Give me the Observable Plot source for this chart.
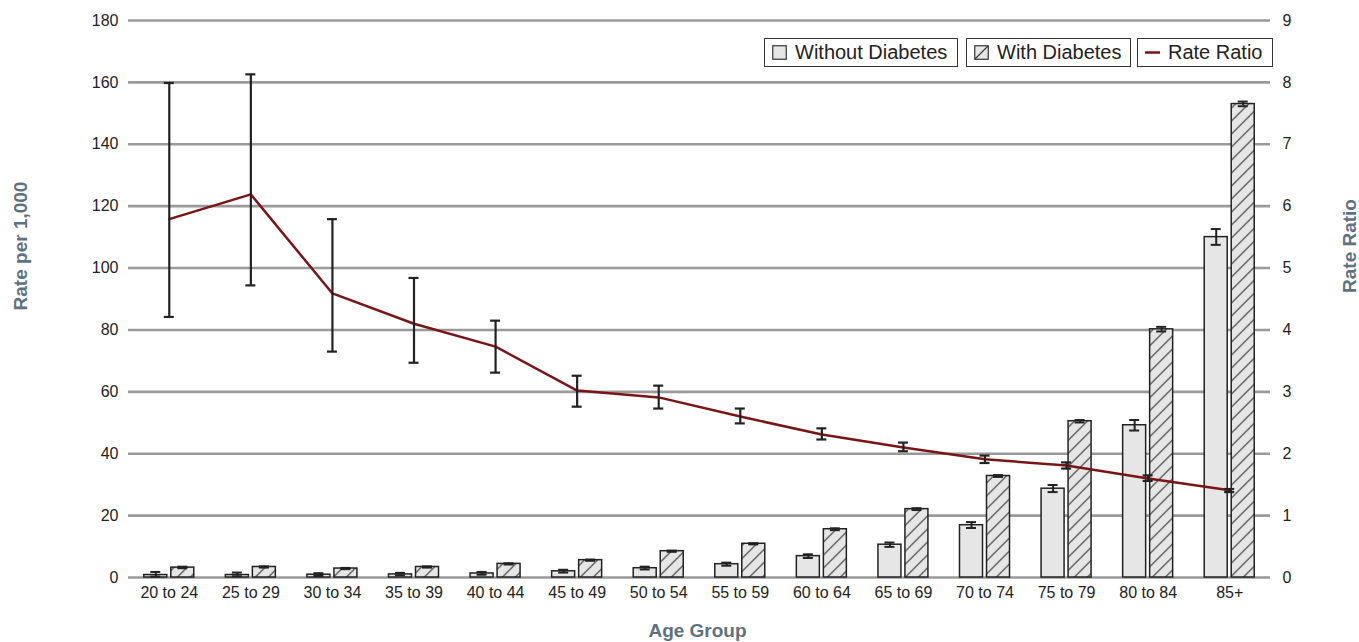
<!DOCTYPE html>
<html><head><meta charset="utf-8">
<script src="https://cdn.jsdelivr.net/npm/d3@7"></script>
<script src="https://cdn.jsdelivr.net/npm/@observablehq/plot@0.6"></script>
<style>
body{margin:0;background:#fff;}
#wrap{position:relative;width:1359px;height:642px;overflow:hidden;}
.lg{position:absolute;top:38px;height:27px;border:1.5px solid #333;background:#fff;display:flex;align-items:center;
  font-family:"Liberation Sans",Arial,sans-serif;font-size:20px;color:#222;box-sizing:content-box;white-space:nowrap;}
.lg svg{margin:0 8px 0 7px;}
</style></head><body><div id="wrap"></div>
<script>
const groups = ["20 to 24","25 to 29","30 to 34","35 to 39","40 to 44","45 to 49","50 to 54","55 to 59","60 to 64","65 to 69","70 to 74","75 to 79","80 to 84","85+"];
const withoutRate = [0.8, 0.8, 0.9, 1.0, 1.3, 2.0, 3.0, 4.3, 6.9, 10.6, 16.9, 28.7, 49.2, 110.0];
const withoutLo   = [0.3, 0.4, 0.5, 0.7, 0.9, 1.6, 2.6, 3.8, 6.3, 9.9, 16.0, 27.6, 47.5, 107.5];
const withoutHi   = [1.8, 1.6, 1.4, 1.5, 1.8, 2.5, 3.5, 4.8, 7.5, 11.3, 17.9, 29.9, 50.9, 112.6];
const withRate    = [3.2, 3.4, 2.9, 3.4, 4.4, 5.6, 8.5, 10.9, 15.6, 22.1, 32.8, 50.5, 80.2, 153.0];
const withLo      = [3.0, 3.2, 2.7, 3.2, 4.2, 5.4, 8.3, 10.7, 15.3, 21.8, 32.5, 50.1, 79.5, 152.3];
const withHi      = [3.5, 3.6, 3.1, 3.6, 4.6, 5.8, 8.7, 11.1, 15.9, 22.4, 33.1, 50.9, 81.0, 153.8];
const ratio       = [5.79, 6.19, 4.59, 4.10, 3.73, 3.02, 2.91, 2.60, 2.31, 2.10, 1.91, 1.81, 1.60, 1.41];
const ratioLo     = [4.21, 4.72, 3.65, 3.47, 3.31, 2.76, 2.73, 2.49, 2.23, 2.04, 1.85, 1.76, 1.56, 1.38];
const ratioHi     = [7.99, 8.13, 5.79, 4.84, 4.15, 3.26, 3.10, 2.73, 2.41, 2.18, 1.97, 1.86, 1.65, 1.43];
const leftTicks   = [0, 20, 40, 60, 80, 100, 120, 140, 160, 180];
const rightTicks  = [0, 1, 2, 3, 4, 5, 6, 7, 8, 9];
const ratioScale  = 180 / 9; // right axis 0–9 maps onto left axis 0–180

const rows = groups.map((g, i) => ({
  group: g,
  wo: withoutRate[i], woLo: withoutLo[i], woHi: withoutHi[i],
  wi: withRate[i], wiLo: withLo[i], wiHi: withHi[i],
  r: ratio[i], rLo: ratioLo[i], rHi: ratioHi[i]
}));

const ink = "#222";
const titleColor = "#5e7181";
const titleFont = '"Liberation Sans", Arial, sans-serif';
const band = (1359 - 128 - 89) / groups.length;
const barW = 23, off = 13.5, capW = 10;
const barInset = (band - barW) / 2, capInset = (band - capW) / 2;

const svg = Plot.plot({
  width: 1359, height: 642,
  marginLeft: 128, marginRight: 89, marginTop: 20, marginBottom: 65,
  style: {fontFamily: '"Liberation Sans", Arial, sans-serif', fontSize: "16px", color: ink, background: "#fff", overflow: "visible"},
  x: {domain: groups, padding: 0, round: false, label: null},
  y: {domain: [0, 180], label: null},
  marks: [
    Plot.ruleY(leftTicks, {stroke: "#9a9a9a", strokeWidth: 2.6}),
    Plot.axisY({anchor: "left", ticks: leftTicks, tickSize: 0, tickPadding: 10, label: null, fontSize: 16}),
    Plot.axisY({anchor: "right", ticks: rightTicks.map(t => t * ratioScale), tickSize: 0, tickPadding: 12, tickFormat: d => d / ratioScale, label: null, fontSize: 16}),
    Plot.axisX({tickSize: 0, tickPadding: 9, label: null, fontSize: 16}),
    // bars
    Plot.barY(rows, {x: "group", y: "wo", fill: "#e6e6e6", stroke: ink, strokeWidth: 1.5, insetLeft: barInset, insetRight: barInset, dx: -off}),
    Plot.barY(rows, {x: "group", y: "wi", fill: "url(#hatch)", stroke: ink, strokeWidth: 1.5, insetLeft: barInset, insetRight: barInset, dx: off}),
    // bar error bars
    Plot.ruleX(rows, {x: "group", y1: "woLo", y2: "woHi", stroke: ink, strokeWidth: 2, dx: -off}),
    Plot.tickY(rows, {x: "group", y: "woLo", stroke: ink, strokeWidth: 2, insetLeft: capInset, insetRight: capInset, dx: -off}),
    Plot.tickY(rows, {x: "group", y: "woHi", stroke: ink, strokeWidth: 2, insetLeft: capInset, insetRight: capInset, dx: -off}),
    Plot.ruleX(rows, {x: "group", y1: "wiLo", y2: "wiHi", stroke: ink, strokeWidth: 2, dx: off}),
    Plot.tickY(rows, {x: "group", y: "wiLo", stroke: ink, strokeWidth: 2, insetLeft: capInset, insetRight: capInset, dx: off}),
    Plot.tickY(rows, {x: "group", y: "wiHi", stroke: ink, strokeWidth: 2, insetLeft: capInset, insetRight: capInset, dx: off}),
    // rate ratio line
    Plot.lineY(rows, {x: "group", y: d => d.r * ratioScale, stroke: "#7a1517", strokeWidth: 2.5}),
    Plot.ruleX(rows, {x: "group", y1: d => d.rLo * ratioScale, y2: d => d.rHi * ratioScale, stroke: ink, strokeWidth: 2.2}),
    Plot.tickY(rows, {x: "group", y: d => d.rLo * ratioScale, stroke: ink, strokeWidth: 2.2, insetLeft: capInset, insetRight: capInset}),
    Plot.tickY(rows, {x: "group", y: d => d.rHi * ratioScale, stroke: ink, strokeWidth: 2.2, insetLeft: capInset, insetRight: capInset}),
    // axis titles
    Plot.text(["Rate per 1,000"], {text: d => d, frameAnchor: "left", textAnchor: "middle", dx: -108, dy: -53, rotate: -90, fill: titleColor, fontWeight: "bold", fontSize: 19, fontFamily: titleFont}),
    Plot.text(["Rate Ratio"], {text: d => d, frameAnchor: "right", textAnchor: "middle", dx: 79, dy: -53, rotate: -90, fill: titleColor, fontWeight: "bold", fontSize: 19, fontFamily: titleFont}),
    Plot.text(["Age Group"], {text: d => d, frameAnchor: "bottom", textAnchor: "middle", dx: -2, dy: 59, fill: titleColor, fontWeight: "bold", fontSize: 19, fontFamily: titleFont})
  ]
});

// hatch pattern for "With Diabetes"
const defs = d3.select(svg).insert("defs", ":first-child");
const pat = defs.append("pattern").attr("id", "hatch").attr("patternUnits", "userSpaceOnUse").attr("width", 13).attr("height", 13);
pat.append("rect").attr("width", 13).attr("height", 13).attr("fill", "#e6e6e6");
pat.append("path").attr("d", "M0,13L13,0M-3,3L3,-3M10,16L16,10").attr("stroke", "#333").attr("stroke-width", 1.1);

const wrap = document.getElementById("wrap");
wrap.appendChild(svg);

// legend
const legendItems = [
  {label: "Without Diabetes", left: 764, width: 192, swatch: '<svg width="15" height="15"><rect x="0.75" y="0.75" width="13.5" height="13.5" fill="#e6e6e6" stroke="#333" stroke-width="1.2"/></svg>'},
  {label: "With Diabetes", left: 966, width: 163, swatch: '<svg width="15" height="15"><rect x="0.75" y="0.75" width="13.5" height="13.5" fill="#e6e6e6" stroke="#333" stroke-width="1.2"/><path d="M1,14L14,1" stroke="#333" stroke-width="1.1"/></svg>'},
  {label: "Rate Ratio", left: 1137, width: 134, swatch: '<svg width="15" height="15"><path d="M0,7.5H15" stroke="#7a1517" stroke-width="2.5"/></svg>'}
];
for (const it of legendItems) {
  const d = document.createElement("div");
  d.className = "lg";
  d.style.left = it.left + "px";
  d.style.width = it.width + "px";
  d.innerHTML = it.swatch + "<span>" + it.label + "</span>";
  wrap.appendChild(d);
}
</script></body></html>
